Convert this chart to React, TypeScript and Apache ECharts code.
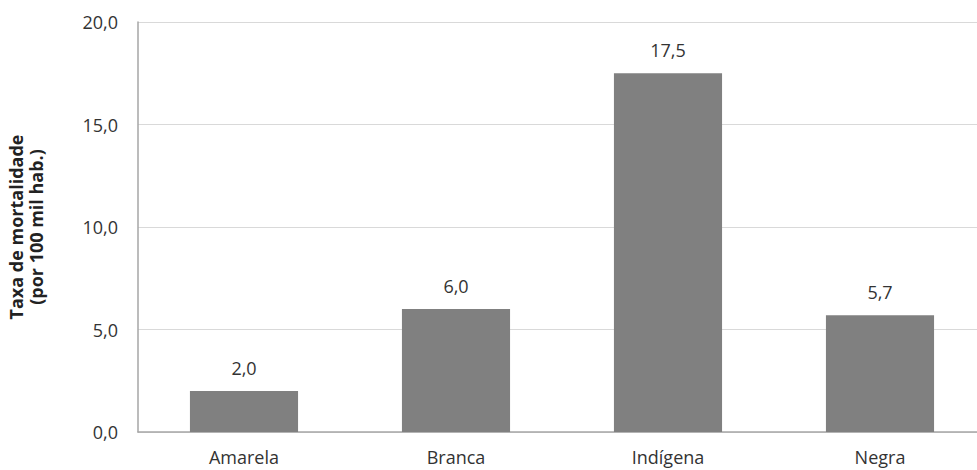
import React, { useEffect, useRef } from "react";
import * as echarts from "echarts";

const categories = ["Amarela", "Branca", "Indígena", "Negra"];
const values = [2.0, 6.0, 17.5, 5.7];
const yTicks = [0, 5, 10, 15, 20];

const fmt = (v: number) => v.toFixed(1).replace(".", ",");

export default function App() {
  const ref = useRef<HTMLDivElement>(null);
  useEffect(() => {
    if (!ref.current) return;
    const chart = echarts.init(ref.current, null, { renderer: "svg" });
    chart.setOption({
      animation: false,
      textStyle: { fontFamily: "Open Sans" },
      grid: { left: 138, top: 22, bottom: 38, right: -9, outerBoundsMode: "none", containLabel: false },
      xAxis: {
        type: "category",
        data: categories,
        axisLine: { lineStyle: { color: "#a6a6a6", width: 1.5 } },
        axisTick: { show: false },
        axisLabel: { color: "#333", fontSize: 18, margin: 16, fontFamily: "Open Sans" },
      },
      yAxis: {
        type: "value",
        min: yTicks[0],
        max: yTicks[yTicks.length - 1],
        interval: 5,
        name: "Taxa de mortalidade\n(por 100 mil hab.)",
        nameLocation: "middle",
        nameGap: 92,
        nameTextStyle: { color: "#222", fontSize: 18, fontWeight: "bold", lineHeight: 20, fontFamily: "Open Sans" },
        axisLine: { show: true, lineStyle: { color: "#a6a6a6", width: 1.5 } },
        axisTick: { show: false },
        axisLabel: { color: "#333", fontSize: 18, margin: 20, formatter: (v: number) => fmt(v), fontFamily: "Open Sans" },
        splitLine: { lineStyle: { color: "#d9d9d9", width: 1 } },
      },
      series: [
        {
          type: "bar",
          data: values,
          barWidth: "51%",
          itemStyle: { color: "#808080" },
          label: {
            show: true,
            position: "top",
            distance: 14,
            color: "#333",
            fontSize: 18,
            fontFamily: "Open Sans",
            formatter: (p: any) => fmt(p.value),
          },
        },
      ],
    });
    return () => chart.dispose();
  }, []);
  return (
    <div style={{ position: "absolute", left: 0, top: 0, width: 977, height: 470, overflow: "hidden", background: "#fff" }}>
      <div ref={ref} style={{ width: 977, height: 470 }} />
    </div>
  );
}
